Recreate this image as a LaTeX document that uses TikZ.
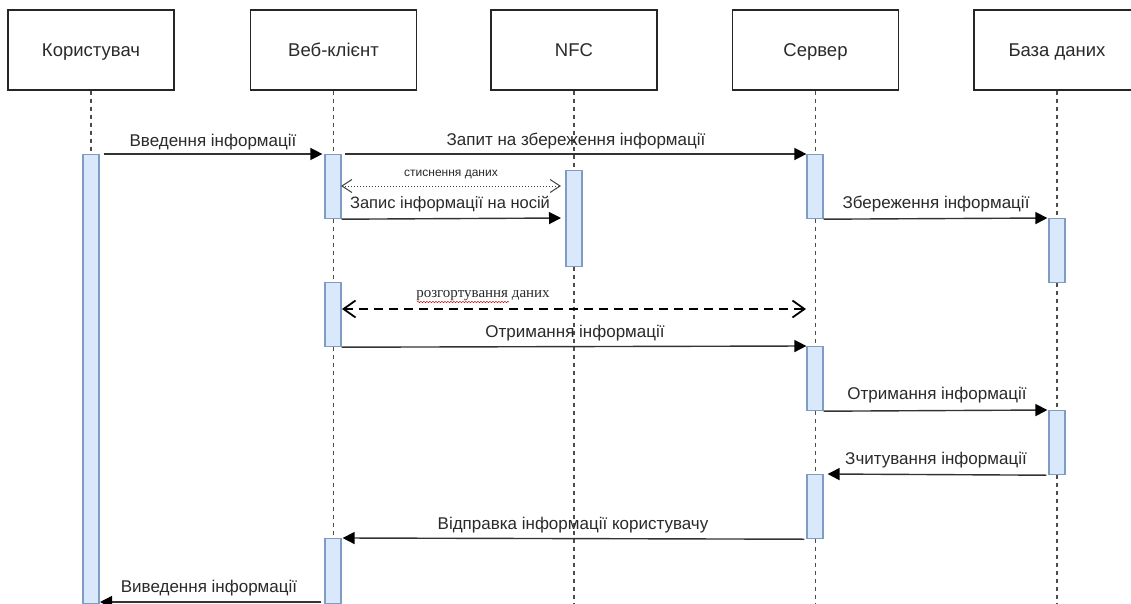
\documentclass[tikz,border=0pt]{standalone}
\usepackage{fontspec}
\setmainfont{Liberation Sans}
\newfontfamily\serifa{Liberation Serif}
\usetikzlibrary{arrows.meta,decorations.pathmorphing}
\definecolor{txt}{HTML}{2A2A2A}
\definecolor{actfill}{HTML}{DAE8FC}
\definecolor{actline}{HTML}{7F9CC4}
\tikzset{
  x=1pt,y=-1pt,
  head/.style={draw=black!85,line width=1.3pt,fill=white,minimum width=166pt,minimum height=80pt,inner sep=0pt,text=txt,text height=17pt,text depth=4pt,font=\fontsize{18.5}{20}\selectfont},
  act/.style={draw=actline,line width=1.2pt,fill=actfill,minimum width=16pt,inner sep=0pt},
  life/.style={draw=black!70,line width=1.4pt,dash pattern=on 4pt off 4pt},
  msg/.style={draw=black!80,line width=1.4pt,-{Triangle[length=12pt,width=12pt,color=black]}},
  lbl/.style={text=txt,inner sep=0pt,yshift=-1.5pt,font=\fontsize{17}{20}\selectfont},
}
\newcommand{\actbox}[4]{\node[act,minimum height=#4pt-#3pt,anchor=north] (#1) at (#2,#3) {};}
\begin{document}
\begin{tikzpicture}
\useasboundingbox (0,0) rectangle (1131,604);
\clip (0,0) rectangle (1131,604);
\fill[white] (0,0) rectangle (1131,604);
% headers
\node[head] (hu) at (91,50) {Користувач};
\node[head] (hw) at (333.5,50) {Веб-клієнт};
\node[head] (hn) at (574,50) {NFC};
\node[head] (hs) at (815.5,50) {Сервер};
\node[head] (hd) at (1057,50) {База даних};
% lifeline ends
\coordinate (eu) at (91,603);
\coordinate (ew) at (333.5,603);
\coordinate (en) at (574,603);
\coordinate (es) at (815.5,603);
\coordinate (ed) at (1057,603);
\draw[life] (hu.south) -- (eu);
\draw[life] (hw.south) -- (ew);
\draw[life] (hn.south) -- (en);
\draw[life] (hs.south) -- (es);
\draw[life] (hd.south) -- (ed);
% activations
\actbox{u1}{91}{154}{603}
\actbox{w1}{333}{154}{218}
\actbox{w2}{333}{282}{346}
\actbox{w3}{333}{538}{603}
\actbox{n1}{574}{170}{266}
\actbox{s1}{815}{154}{218}
\actbox{s2}{815}{346}{410}
\actbox{s3}{815}{474}{538}
\actbox{d1}{1057}{218}{282}
\actbox{d2}{1057}{410}{474}
% messages
\draw[msg] ([xshift=4pt]u1.north east) -- ([xshift=-2pt]w1.north west);
\draw[msg] ([xshift=3pt]w1.north east) -- (s1.north west);
\coordinate (ca) at (341,186);
\coordinate (cb) at (561,186);
\draw[black!75,line width=1pt,dotted,{Straight Barb[length=10pt,width=13pt]}-{Straight Barb[length=10pt,width=13pt]}] (ca) -- (cb);
\coordinate (rb) at (561,218);
\draw[msg] (w1.south east) -- (rb);
\draw[msg] (s1.south east) -- ([xshift=-1pt]d1.north west);
\coordinate (da) at (342,309);
\coordinate (db) at (806,309);
\draw[black,line width=1.8pt,dash pattern=on 9pt off 6pt,{Straight Barb[length=12pt,width=17pt]}-{Straight Barb[length=12pt,width=17pt]}] (da) -- (db);
\draw[msg] (w2.south east) -- (s2.north west);
\draw[msg] (s2.south east) -- ([xshift=-1pt]d2.north west);
\draw[msg] ([xshift=-2pt]d2.south west) -- ([xshift=4pt]s3.north east);
\draw[msg] ([xshift=-2pt]s3.south west) -- ([xshift=1pt]w3.north east);
\coordinate (oa) at (321,602);
\coordinate (ob) at (100,602);
\draw[msg] (oa) -- (ob);
% labels
\node[lbl] (t1) at (213,141) {Введення інформації};
\node[lbl] (t2) at (576,140) {Запит на збереження інформації};
\node[text=txt,inner sep=0pt,font=\fontsize{12}{14}\selectfont] (t3) at (451,174) {стиснення даних};
\node[lbl,font=\fontsize{16.5}{20}\selectfont] (t4) at (450,203) {Запис інформації на носій};
\node[lbl] (t5) at (936,203) {Збереження інформації};
\node[text=txt,inner sep=0pt,font=\serifa\fontsize{15}{18}\selectfont] (t6) at (483,296) {розгортування даних};
\node[lbl] (t7) at (575,332) {Отримання інформації};
\node[lbl] (t8) at (937,394) {Отримання інформації};
\node[lbl] (t9) at (936,459) {Зчитування інформації};
\node[lbl] (t10) at (573,524) {Відправка інформації користувачу};
\node[lbl] (t11) at (209,587) {Виведення інформації};
\draw[red!80!black,line width=0.5pt,decorate,decoration={snake,amplitude=0.6pt,segment length=3pt}] (417,302) -- (509,302);
\end{tikzpicture}
\end{document}
